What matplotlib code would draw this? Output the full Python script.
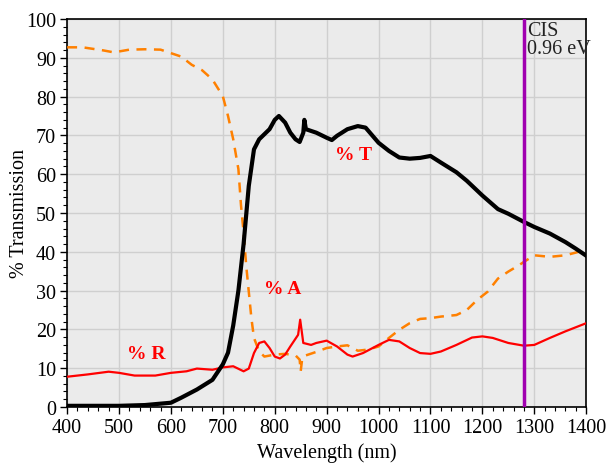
import matplotlib
matplotlib.use("Agg")
import matplotlib.pyplot as plt
from matplotlib.ticker import MultipleLocator

plt.rcParams['font.family'] = ['Liberation Serif', 'DejaVu Serif']

# %T (black)
t_x = [400, 500, 550, 600, 620, 650, 680, 700, 710, 720, 730, 740, 750, 760, 770, 780, 790,
       800, 808, 820, 830, 840, 848, 855, 857, 860, 880, 900, 910, 920, 940, 960, 975,
       1000, 1020, 1040, 1060, 1080, 1100, 1120, 1150, 1170, 1200, 1230, 1250, 1280,
       1300, 1330, 1360, 1380, 1400]
t_y = [0.3, 0.3, 0.5, 1.1, 2.4, 4.5, 7.0, 11.0, 14.0, 21.0, 30.0, 42.0, 57.0, 66.4, 69.0, 70.3, 71.6,
       74.0, 75.0, 73.3, 70.7, 69.0, 68.3, 70.7, 74.0, 71.6, 70.7, 69.4, 68.8, 69.9, 71.6, 72.4, 72.0,
       68.1, 66.0, 64.3, 64.0, 64.2, 64.7, 63.0, 60.5, 58.3, 54.5, 51.0, 49.8, 47.7,
       46.4, 44.7, 42.5, 40.8, 39.0]

# %A (orange dashed)
a_x = [400, 430, 470, 490, 520, 550, 580, 600, 620, 640, 660, 680, 700, 710, 720, 730, 735, 740,
       745, 750, 755, 760, 770, 780, 800, 820, 840, 848, 850, 853, 860, 880, 900, 920, 940, 960,
       980, 1000, 1020, 1040, 1060, 1080, 1100, 1120, 1150, 1170, 1190, 1210, 1230, 1250, 1270,
       1280, 1300, 1330, 1360, 1380, 1400]
a_y = [92.7, 92.7, 91.9, 91.4, 92.1, 92.2, 92.1, 91.2, 90.3, 88.2, 86.8, 84.4, 80.1, 75.0, 69.0, 61.3, 52.0, 45.0,
       36.5, 29.7, 22.9, 17.8, 14.3, 13.0, 13.5, 13.7, 13.3, 12.2, 9.2, 12.6, 13.3, 14.2, 15.2, 15.6, 15.9, 14.5,
       14.8, 15.6, 17.8, 19.9, 21.6, 22.7, 22.9, 23.3, 23.7, 25.0, 27.6, 29.7, 33.1, 34.9, 36.5,
       37.4, 39.1, 38.7, 39.1, 39.8, 40.6]

# %R (red)
r_x = [400, 440, 480, 500, 530, 570, 600, 630, 650, 680, 700, 720, 740, 750, 760, 770, 780, 790,
       800, 810, 820, 830, 845, 849, 852, 855, 870, 880, 900, 920, 940, 950, 970, 1000, 1020,
       1040, 1060, 1080, 1100, 1120, 1150, 1180, 1200, 1220, 1250, 1280, 1300, 1330, 1360, 1400]
r_y = [7.8, 8.4, 9.1, 8.8, 8.1, 8.1, 8.8, 9.2, 9.9, 9.6, 10.2, 10.5, 9.2, 9.9, 13.9, 16.5, 16.9, 15.2,
       13.0, 12.5, 13.5, 15.6, 18.6, 22.5, 19.5, 16.5, 16.0, 16.5, 17.1, 15.6, 13.5, 13.0, 13.9, 16.0, 17.3,
       16.9, 15.2, 13.9, 13.7, 14.3, 16.0, 17.9, 18.2, 17.8, 16.5, 15.8, 16.0, 17.8, 19.5, 21.6]

cis_x = 1280

fig = plt.figure(figsize=(6.10, 4.64), dpi=100)
ax = fig.add_axes([0.110, 0.1207, 0.851, 0.8362])
ax.set_facecolor('#ebebeb')

ax.plot(a_x, a_y, color='#ff8000', lw=1.8, ls=(0, (4, 3)), zorder=3)
ax.plot(r_x, r_y, color='#ff0000', lw=1.6, zorder=4)
ax.plot(t_x, t_y, color='black', lw=3.0, zorder=5)
ax.axvline(cis_x, color='#a000b0', lw=2.5, zorder=6)

ax.set_xlim(400, 1400)
ax.set_ylim(0, 100)
ax.xaxis.set_major_locator(MultipleLocator(100))
ax.xaxis.set_minor_locator(MultipleLocator(20))
ax.yaxis.set_major_locator(MultipleLocator(10))
ax.yaxis.set_minor_locator(MultipleLocator(2))
ax.grid(True, which='major', color='#cfcfcf', lw=1.0, zorder=0)
ax.set_axisbelow(True)
ax.tick_params(which='major', direction='out', length=5, width=1, labelsize=14.5, pad=3)
ax.tick_params(which='minor', direction='out', length=3, width=0.8)
for s in ax.spines.values():
    s.set_linewidth(1.2)

ax.set_xlabel('Wavelength (nm)', fontsize=14.5, labelpad=4)
ax.set_ylabel('% Transmission', fontsize=14.5)
ax.yaxis.set_label_coords(-0.074, 0.5)

ax.text(951, 65, '% T', color='#ff0000', fontsize=14, fontweight='bold', ha='center', va='center')
ax.text(815, 30.6, '% A', color='#ff0000', fontsize=14, fontweight='bold', ha='center', va='center')
ax.text(553, 13.9, '% R', color='#ff0000', fontsize=14, fontweight='bold', ha='center', va='center')
ax.text(1286, 99.5, 'CIS\n0.96 eV', color='#222222', fontsize=14.5, ha='left', va='top', linespacing=0.95)

fig.savefig('out.png', dpi=100)
